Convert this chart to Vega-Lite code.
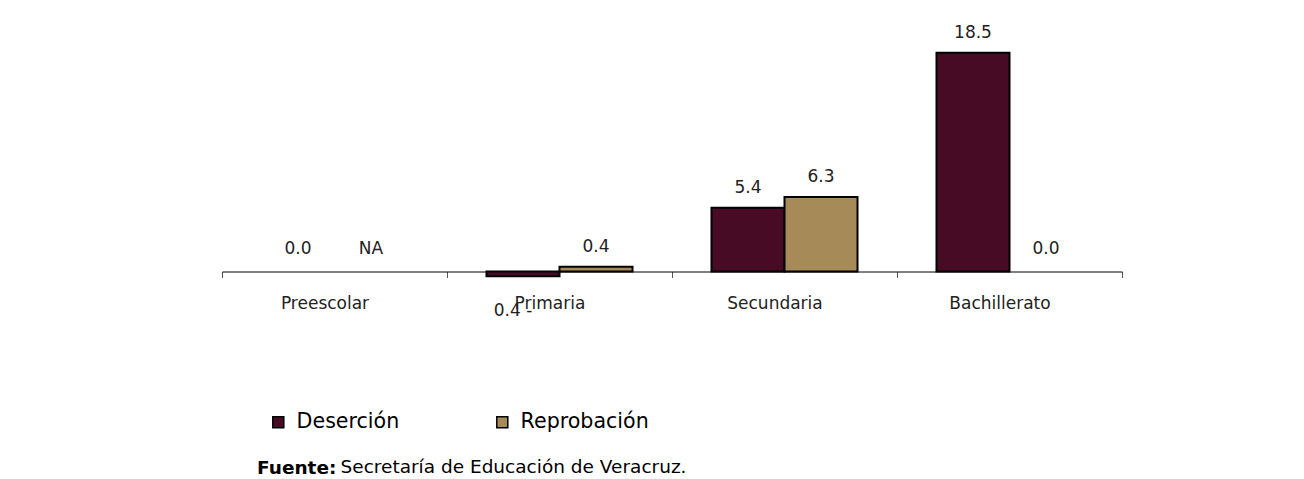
{
  "$schema": "https://vega.github.io/schema/vega-lite/v6.json",
  "width": 900,
  "height": 236.5,
  "autosize": {"type": "none"},
  "padding": {"left": 222, "top": 35, "right": 182, "bottom": 207.5},
  "background": "white",
  "config": {"view": {"stroke": null}, "font": "DejaVu Sans"},
  "data": {
    "values": [
      {"nivel": "Preescolar", "serie": "Deserción", "value": 0.0, "label": "0.0"},
      {"nivel": "Preescolar", "serie": "Reprobación", "value": null, "label": "NA"},
      {"nivel": "Primaria", "serie": "Deserción", "value": -0.4, "label": "0.4 -"},
      {"nivel": "Primaria", "serie": "Reprobación", "value": 0.4, "label": "0.4"},
      {"nivel": "Secundaria", "serie": "Deserción", "value": 5.4, "label": "5.4"},
      {"nivel": "Secundaria", "serie": "Reprobación", "value": 6.3, "label": "6.3"},
      {"nivel": "Bachillerato", "serie": "Deserción", "value": 18.5, "label": "18.5"},
      {"nivel": "Bachillerato", "serie": "Reprobación", "value": 0.0, "label": "0.0"}
    ]
  },
  "title": {
    "text": "Fuente:",
    "orient": "top",
    "anchor": "start",
    "frame": "group",
    "font": "DejaVu Sans",
    "fontSize": 18.5,
    "fontWeight": "bold",
    "color": "black",
    "baseline": "alphabetic",
    "offset": 0,
    "dx": 35,
    "dy": 468.5
  },
  "encoding": {
    "x": {
      "field": "nivel",
      "type": "nominal",
      "sort": ["Preescolar", "Primaria", "Secundaria", "Bachillerato"],
      "scale": {"paddingInner": 0, "paddingOuter": 0},
      "axis": {
        "title": "Secretaría de Educación de Veracruz.",
        "titleX": 118,
        "titleY": 201,
        "titleAlign": "left",
        "titleBaseline": "alphabetic",
        "titleFont": "DejaVu Sans",
        "titleFontSize": 18.5,
        "titleFontWeight": "normal",
        "titleColor": "black",
        "labelAngle": 0,
        "labelFont": "DejaVu Sans",
        "labelFontSize": 17,
        "labelColor": "#222222",
        "labelPadding": 18,
        "labelOffset": -10,
        "tickBand": "extent",
        "tickSize": 6,
        "tickColor": "#555555",
        "domainColor": "black",
        "domainWidth": 1,
        "grid": false
      }
    },
    "xOffset": {
      "field": "serie",
      "type": "nominal",
      "sort": ["Deserción", "Reprobación"],
      "scale": {"paddingInner": 0, "paddingOuter": 0.541}
    }
  },
  "layer": [
    {
      "transform": [{"filter": "isValid(datum.value) && datum.value != 0"}],
      "mark": {"type": "bar", "stroke": "black", "strokeWidth": 2},
      "encoding": {
        "y": {
          "field": "value",
          "type": "quantitative",
          "scale": {"domain": [0, 20], "nice": false},
          "axis": null
        },
        "color": {
          "field": "serie",
          "type": "nominal",
          "scale": {"domain": ["Deserción", "Reprobación"], "range": ["#470b26", "#a68b59"]},
          "legend": {
            "title": null,
            "orient": "none",
            "direction": "horizontal",
            "legendX": 46,
            "legendY": 377,
            "columnPadding": 92,
            "symbolType": "square",
            "symbolSize": 121,
            "symbolStrokeColor": "black",
            "symbolStrokeWidth": 1.5,
            "symbolOpacity": 1,
            "labelFont": "DejaVu Sans",
            "labelFontSize": 20.6,
            "labelColor": "black",
            "labelOffset": 8
          }
        }
      }
    },
    {
      "transform": [{"filter": "isValid(datum.value) && datum.value > 0"}],
      "mark": {"type": "text", "baseline": "alphabetic", "dy": -15, "fontSize": 17, "color": "#222222"},
      "encoding": {
        "y": {"field": "value", "type": "quantitative"},
        "text": {"field": "label"}
      }
    },
    {
      "transform": [{"filter": "isValid(datum.value) && datum.value < 0"}],
      "mark": {"type": "text", "baseline": "alphabetic", "dy": 40, "dx": -10, "fontSize": 17, "color": "#222222"},
      "encoding": {
        "y": {"field": "value", "type": "quantitative"},
        "text": {"field": "label"}
      }
    },
    {
      "transform": [{"filter": "!isValid(datum.value) || datum.value == 0"}],
      "mark": {"type": "text", "baseline": "alphabetic", "dy": -17.5, "fontSize": 17, "color": "#222222"},
      "encoding": {
        "y": {"datum": 0},
        "text": {"field": "label"}
      }
    }
  ]
}
